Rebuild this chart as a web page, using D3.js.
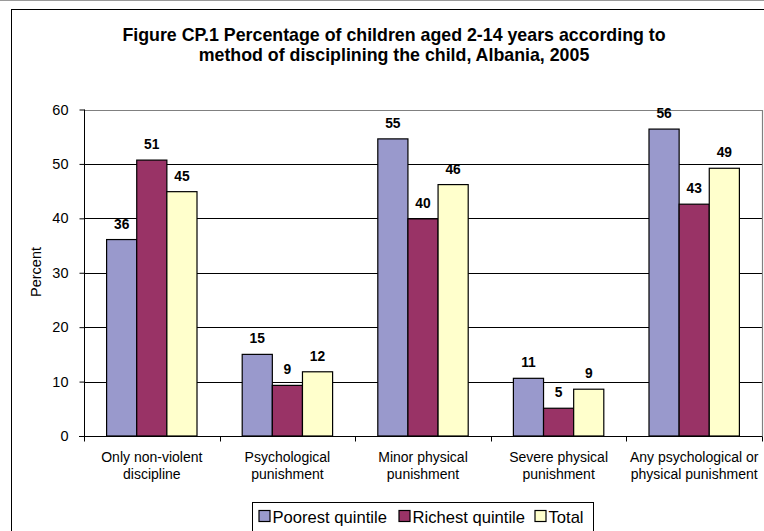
<!DOCTYPE html>
<html>
<head>
<meta charset="utf-8">
<script src="https://cdn.jsdelivr.net/npm/d3@7"></script>
<style>
  html, body { margin: 0; padding: 0; background: #fff; }
  svg { display: block; font-family: Arial, "Liberation Sans", sans-serif; }
</style>
</head>
<body>
<svg id="chart" width="764" height="531"></svg>
<script>
// Discipline methods (x categories), with their two-line axis labels
const categories = [
  "Only non-violent discipline",
  "Psychological punishment",
  "Minor physical punishment",
  "Severe physical punishment",
  "Any psychological or physical punishment"
];
const categoryLines = [
  ["Only non-violent", "discipline"],
  ["Psychological", "punishment"],
  ["Minor physical", "punishment"],
  ["Severe physical", "punishment"],
  ["Any psychological or", "physical punishment"]
];

// Series
const seriesNames = ["Poorest quintile", "Richest quintile", "Total"];
const poorest = [36.1, 15.0, 54.6, 10.6, 56.4];
const richest = [50.7, 9.3, 39.9, 5.1, 42.6];
const total   = [44.9, 11.8, 46.2, 8.6, 49.2];
const seriesValues = [poorest, richest, total];
const seriesColors = ["#9999CC", "#993366", "#FFFFCC"];

// Y axis ticks
const yTicks = [0, 10, 20, 30, 40, 50, 60];

const svg = d3.select("#chart");

// Page frame
svg.append("line").attr("x1", 0).attr("x2", 764).attr("y1", 0.5).attr("y2", 0.5)
  .attr("stroke", "#9a9a9a").attr("stroke-width", 1);
svg.append("rect").attr("x", 11.5).attr("y", 9.5).attr("width", 800).attr("height", 600)
  .attr("fill", "none").attr("stroke", "#000").attr("stroke-width", 1);

// Title
const title = svg.append("text").attr("text-anchor", "middle")
  .attr("font-weight", "bold").attr("font-size", 17.8).attr("fill", "#000");
title.append("tspan").attr("x", 394).attr("y", 40.5)
  .text("Figure CP.1 Percentage of children aged 2-14 years according to");
title.append("tspan").attr("x", 394).attr("y", 61)
  .text("method of disciplining the child, Albania, 2005");

// Scales
const plot = { left: 84, right: 762, top: 109.5, bottom: 436 };
const x0 = d3.scaleBand().domain(categories).range([plot.left, plot.right]).padding(0);
const x1 = d3.scaleBand().domain(seriesNames).range([0, x0.bandwidth()])
  .paddingInner(0).paddingOuter(0.75);
const y = d3.scaleLinear().domain([0, 60]).range([plot.bottom, plot.top]);

// Gridlines
svg.append("g").selectAll("line").data(yTicks.filter(t => t > 0 && t < 60)).join("line")
  .attr("x1", plot.left).attr("x2", plot.right)
  .attr("y1", d => Math.round(y(d)) + 0.5).attr("y2", d => Math.round(y(d)) + 0.5)
  .attr("stroke", "#000").attr("stroke-width", 1);

// Plot area border (top and right)
svg.append("path")
  .attr("d", `M${plot.left},${Math.round(plot.top) + 0.5}H${plot.right + 0.5}V${plot.bottom}`)
  .attr("fill", "none").attr("stroke", "#808080").attr("stroke-width", 1.2);

// Bars
const groups = svg.append("g").selectAll("g").data(categories).join("g")
  .attr("transform", c => `translate(${x0(c)},0)`);
groups.selectAll("rect")
  .data((c, i) => seriesNames.map((s, j) => ({ s, v: seriesValues[j][i], color: seriesColors[j] })))
  .join("rect")
  .attr("x", d => x1(d.s))
  .attr("y", d => y(d.v))
  .attr("width", x1.bandwidth())
  .attr("height", d => y(0) - y(d.v))
  .attr("fill", d => d.color)
  .attr("stroke", "#000").attr("stroke-width", 1.2);

// Value labels
groups.selectAll("text")
  .data((c, i) => seriesNames.map((s, j) => ({ s, v: seriesValues[j][i] })))
  .join("text")
  .attr("x", d => x1(d.s) + x1.bandwidth() / 2)
  .attr("y", d => y(d.v) - 11)
  .attr("text-anchor", "middle")
  .attr("font-weight", "bold").attr("font-size", 13.8).attr("fill", "#000")
  .text(d => d3.format(".0f")(d.v));

// Y axis
const yAxis = svg.append("g").attr("transform", `translate(${plot.left + 0.5},0)`)
  .call(d3.axisLeft(y).tickValues(yTicks).tickSize(5).tickPadding(11).tickFormat(d3.format("d")));
yAxis.select(".domain").attr("stroke", "#000").attr("d", `M0,${plot.top}V${plot.bottom}`);
yAxis.selectAll(".tick line").attr("stroke", "#000");
yAxis.selectAll(".tick text").attr("font-size", 14.5).attr("font-family", "Arial, 'Liberation Sans', sans-serif").attr("fill", "#000");

// X axis
const xAxis = svg.append("g").attr("transform", `translate(0,${plot.bottom + 0.5})`);
xAxis.append("line").attr("x1", plot.left - 5).attr("x2", plot.right + 0.5)
  .attr("stroke", "#000").attr("stroke-width", 1);
const boundaries = categories.map(c => x0(c)).concat([plot.right]);
xAxis.selectAll("line.tick").data(boundaries).join("line").attr("class", "tick")
  .attr("x1", d => Math.round(d) + 0.5).attr("x2", d => Math.round(d) + 0.5)
  .attr("y1", 0).attr("y2", 5).attr("stroke", "#000");
const catLabels = xAxis.selectAll("text").data(categories).join("text")
  .attr("text-anchor", "middle").attr("font-size", 14).attr("fill", "#000")
  .attr("transform", c => `translate(${x0(c) + x0.bandwidth() / 2},0)`);
catLabels.each(function (c, i) {
  const t = d3.select(this);
  categoryLines[i].forEach((line, k) => {
    t.append("tspan").attr("x", 0).attr("y", 25.5 + k * 16.5).text(line);
  });
});

// Y axis title
svg.append("text")
  .attr("transform", `translate(41,272) rotate(-90)`)
  .attr("text-anchor", "middle").attr("font-size", 14.5).attr("fill", "#000")
  .text("Percent");

// Legend
const legend = svg.append("g");
legend.append("rect").attr("x", 252.5).attr("y", 502.5).attr("width", 341).attr("height", 40)
  .attr("fill", "#fff").attr("stroke", "#000").attr("stroke-width", 1);
const legendX = [259, 399, 535];
const legendItems = legend.selectAll("g.item").data(seriesNames).join("g").attr("class", "item")
  .attr("transform", (s, i) => `translate(${legendX[i]},0)`);
legendItems.append("rect").attr("x", 0).attr("y", 510.5).attr("width", 11).attr("height", 11)
  .attr("fill", (s, i) => seriesColors[i]).attr("stroke", "#000").attr("stroke-width", 1.2);
legendItems.append("text").attr("x", 13.5).attr("y", 522.5)
  .attr("font-size", 16.6).attr("fill", "#000").text(s => s);
</script>
</body>
</html>
